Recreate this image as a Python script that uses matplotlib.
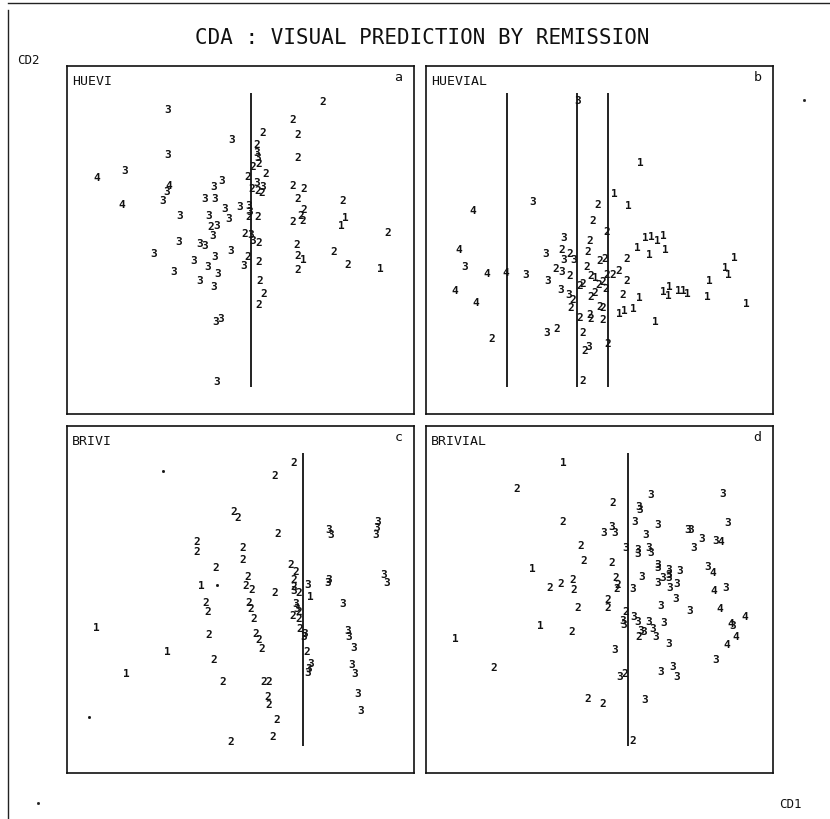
import matplotlib
matplotlib.use("Agg")
import matplotlib.pyplot as plt
from matplotlib.lines import Line2D

plt.rcParams['font.family'] = ['DejaVu Sans Mono', 'DejaVu Sans']

# canonical scores (no scale in the original, so units are
# panel units: CD1 left->right, CD2 measured down from the top of each panel)
# each entry: (remission group, cd1, cd2)
huevi = [(2, 256, 36), (3, 101, 44), (2, 226, 54), (2, 196, 67), (2, 231, 69), (3, 165, 74),
         (2, 190, 79), (3, 101, 89), (3, 190, 87), (3, 191, 92), (2, 231, 92), (2, 192, 98),
         (2, 186, 101), (3, 58, 105), (2, 199, 108), (2, 181, 111), (4, 30, 112), (3, 155, 115),
         (3, 190, 117), (4, 102, 120), (3, 147, 121), (3, 196, 121), (2, 226, 120), (2, 237, 123),
         (2, 185, 123), (2, 191, 125), (2, 195, 127), (3, 100, 126), (3, 96, 135), (3, 138, 133),
         (3, 148, 133), (2, 231, 133), (2, 276, 135), (4, 55, 139), (3, 158, 143), (3, 173, 141),
         (3, 182, 140), (3, 183, 146), (2, 237, 144), (2, 182, 151), (2, 191, 151), (2, 234, 150),
         (3, 113, 150), (3, 142, 150), (1, 278, 152), (3, 162, 153), (2, 226, 156), (2, 236, 155),
         (1, 274, 160), (2, 144, 161), (3, 150, 160), (2, 321, 167), (3, 146, 170), (2, 178, 168),
         (3, 184, 169), (3, 186, 175), (2, 192, 177), (3, 112, 176), (3, 133, 178), (3, 138, 180),
         (2, 230, 179), (3, 164, 185), (2, 267, 186), (3, 87, 188), (2, 231, 190), (1, 236, 194),
         (3, 148, 191), (2, 181, 191), (2, 192, 196), (3, 127, 195), (3, 177, 200), (2, 281, 199),
         (3, 141, 201), (1, 313, 203), (2, 231, 204), (3, 107, 206), (3, 151, 208), (3, 133, 215),
         (2, 193, 215), (3, 147, 221), (2, 197, 228), (2, 192, 239), (3, 154, 253), (3, 149, 256),
         (3, 150, 316)]

huevial = [(3, 152, 35), (1, 214, 97), (1, 188, 128), (3, 107, 136), (2, 172, 139), (1, 202, 140),
           (4, 47, 145), (2, 167, 155), (2, 181, 166), (3, 138, 172), (2, 164, 175), (1, 219, 172),
           (1, 225, 171), (1, 231, 175), (1, 237, 170), (1, 211, 182), (1, 223, 189), (1, 239, 184),
           (4, 33, 184), (3, 120, 188), (2, 136, 184), (2, 144, 188), (2, 162, 186), (3, 138, 194),
           (3, 148, 194), (2, 174, 195), (2, 179, 193), (2, 201, 193), (1, 308, 192), (3, 39, 201),
           (4, 61, 208), (4, 80, 207), (3, 100, 209), (2, 130, 203), (3, 136, 206), (2, 144, 210),
           (2, 161, 201), (2, 165, 210), (1, 169, 212), (2, 181, 209), (2, 187, 209), (2, 193, 205),
           (2, 201, 215), (1, 299, 202), (1, 302, 209), (3, 122, 215), (2, 154, 220), (2, 157, 218),
           (2, 173, 219), (2, 177, 216), (2, 180, 223), (1, 283, 215), (4, 29, 225), (3, 135, 224),
           (3, 143, 229), (2, 147, 234), (2, 165, 231), (2, 169, 227), (2, 197, 229), (1, 213, 232),
           (1, 237, 226), (1, 243, 221), (1, 242, 230), (1, 252, 225), (1, 257, 225), (1, 261, 228),
           (1, 281, 231), (4, 50, 237), (1, 320, 238), (2, 145, 242), (2, 174, 241), (2, 177, 242),
           (1, 193, 248), (1, 198, 245), (1, 207, 243), (2, 154, 252), (2, 164, 249), (2, 165, 253),
           (2, 177, 254), (1, 229, 256), (3, 121, 267), (2, 131, 263), (2, 157, 267), (2, 66, 273),
           (2, 182, 278), (3, 163, 281), (2, 159, 285), (2, 157, 315)]

brivi = [(2, 227, 37), (2, 208, 50), (2, 167, 86), (2, 171, 92), (2, 211, 108), (3, 262, 104),
         (3, 264, 109), (3, 311, 96), (3, 310, 102), (3, 309, 109), (2, 130, 116), (2, 130, 126),
         (2, 176, 122), (2, 176, 134), (2, 149, 142), (2, 224, 139), (2, 229, 146), (3, 317, 149),
         (3, 320, 157), (3, 262, 154), (3, 261, 157), (3, 241, 159), (1, 134, 160), (2, 181, 151),
         (2, 179, 160), (2, 185, 164), (2, 227, 154), (2, 227, 161), (2, 208, 167), (3, 227, 165),
         (2, 232, 167), (1, 243, 171), (3, 276, 179), (2, 139, 178), (2, 141, 187), (2, 182, 178),
         (2, 184, 184), (2, 187, 194), (3, 229, 179), (3, 230, 184), (2, 226, 191), (2, 232, 187),
         (2, 232, 194), (1, 29, 203), (2, 142, 210), (2, 189, 209), (2, 192, 215), (2, 195, 224),
         (2, 233, 204), (3, 238, 209), (3, 237, 212), (3, 281, 206), (3, 282, 212), (3, 287, 223),
         (1, 100, 227), (2, 240, 227), (2, 147, 235), (3, 244, 239), (3, 242, 244), (3, 241, 248),
         (3, 285, 240), (3, 288, 249), (1, 59, 249), (2, 156, 257), (2, 197, 257), (2, 202, 257),
         (3, 291, 269), (2, 201, 272), (2, 202, 280), (3, 294, 286), (2, 210, 295), (2, 206, 312),
         (2, 164, 317)]

brivial = [(1, 137, 37), (2, 91, 63), (3, 225, 69), (3, 297, 68), (2, 187, 77), (3, 213, 81),
           (3, 214, 84), (2, 137, 96), (3, 209, 96), (3, 232, 99), (3, 302, 97), (3, 178, 107),
           (3, 186, 101), (3, 189, 107), (3, 220, 109), (3, 262, 104), (3, 265, 104), (3, 276, 113),
           (3, 290, 115), (4, 295, 116), (2, 155, 120), (3, 200, 122), (3, 212, 124), (3, 212, 128),
           (3, 223, 122), (3, 225, 127), (3, 268, 122), (2, 158, 135), (2, 186, 137), (1, 106, 143),
           (3, 232, 139), (3, 232, 142), (3, 243, 144), (3, 243, 149), (3, 254, 145), (3, 282, 141),
           (4, 287, 147), (3, 216, 151), (3, 232, 157), (3, 237, 152), (3, 243, 152), (3, 244, 162),
           (3, 251, 158), (2, 190, 152), (2, 192, 159), (2, 191, 163), (3, 207, 163), (2, 124, 162),
           (2, 135, 158), (2, 147, 154), (2, 148, 164), (4, 288, 165), (3, 300, 162), (3, 250, 173),
           (2, 182, 175), (2, 182, 183), (2, 152, 183), (3, 235, 181), (3, 264, 186), (4, 294, 184),
           (4, 319, 192), (1, 114, 201), (2, 200, 187), (3, 197, 196), (3, 198, 200), (3, 208, 192),
           (3, 212, 197), (3, 223, 197), (3, 227, 204), (3, 238, 198), (4, 305, 199), (3, 307, 201),
           (3, 215, 206), (3, 218, 207), (2, 213, 212), (3, 230, 212), (2, 146, 207), (1, 29, 214),
           (4, 310, 212), (4, 301, 220), (3, 243, 219), (3, 189, 225), (3, 290, 235), (2, 68, 243),
           (3, 194, 252), (2, 199, 249), (3, 235, 247), (3, 247, 242), (3, 251, 252), (2, 162, 274),
           (2, 177, 279), (3, 219, 275), (2, 207, 316)]

# decision boundaries on CD1 and their drawn extent on CD2
huevi_cuts = [184]
huevial_cuts = [81, 151, 182]
brivi_cuts = [236]
brivial_cuts = [202]
cut_span = (27, 321)

# unlabeled specks in panel c
brivi_specks = [(96, 45), (150, 159), (22, 292)]

panel_names = ['HUEVI', 'HUEVIAL', 'BRIVI', 'BRIVIAL']
panel_letters = ['a', 'b', 'c', 'd']

W, H = 830, 819
fig = plt.figure(figsize=(W / 100, H / 100), dpi=100)
fig.patch.set_facecolor('white')

boxes = [
    [67 / W, 1 - 414 / H, 347 / W, 348 / H],
    [426 / W, 1 - 414 / H, 347 / W, 348 / H],
    [67 / W, 1 - 773 / H, 347 / W, 347 / H],
    [426 / W, 1 - 773 / H, 347 / W, 347 / H],
]
datasets = [huevi, huevial, brivi, brivial]
cuts = [huevi_cuts, huevial_cuts, brivi_cuts, brivial_cuts]

for box, pts, cut, name, letter in zip(boxes, datasets, cuts, panel_names, panel_letters):
    ax = fig.add_axes(box)
    ax.set_xlim(0, 347)
    ax.set_ylim(348, 0)
    ax.set_xticks([])
    ax.set_yticks([])
    for s in ax.spines.values():
        s.set_linewidth(1.2)
        s.set_color('#111111')
    ax.vlines(cut, cut_span[0], cut_span[1], color='#111111', lw=1.3)
    for g, x, y in pts:
        ax.text(x, y, str(g), ha='center', va='center', fontsize=8, fontweight='bold',
                color='#111111')
    ax.text(0.014, 0.955, name, transform=ax.transAxes, ha='left', va='center',
            fontsize=9.5, color='#111111')
    ax.text(0.955, 0.968, letter, transform=ax.transAxes, ha='center', va='center',
            fontsize=9.5, color='#111111')
    if name == 'BRIVI':
        sx, sy = zip(*brivi_specks)
        ax.plot(sx, sy, 's', ms=1.0, color='#111111')

fig.text(422 / W, 1 - 38 / H, 'CDA : VISUAL PREDICTION BY REMISSION', ha='center', va='center',
         fontsize=15, color='#111111')
fig.text(28 / W, 1 - 60 / H, 'CD2', ha='center', va='center', fontsize=9, color='#111111')
fig.text(790 / W, 1 - 805 / H, 'CD1', ha='center', va='center', fontsize=9, color='#111111')

# outer frame of the original plot sheet (top and left edges only) and stray specks
fig.add_artist(Line2D([8 / W, 1], [1 - 3 / H, 1 - 3 / H], color='#222222', lw=1.0))
fig.add_artist(Line2D([8 / W, 8 / W], [0, 1 - 10 / H], color='#222222', lw=1.0))
fig.add_artist(Line2D([38 / W, 804 / W], [1 - 803 / H, 1 - 100 / H], ls='none', marker='s',
                      ms=1.0, color='#222222'))

fig.savefig('out.png', dpi=100, facecolor='white')
